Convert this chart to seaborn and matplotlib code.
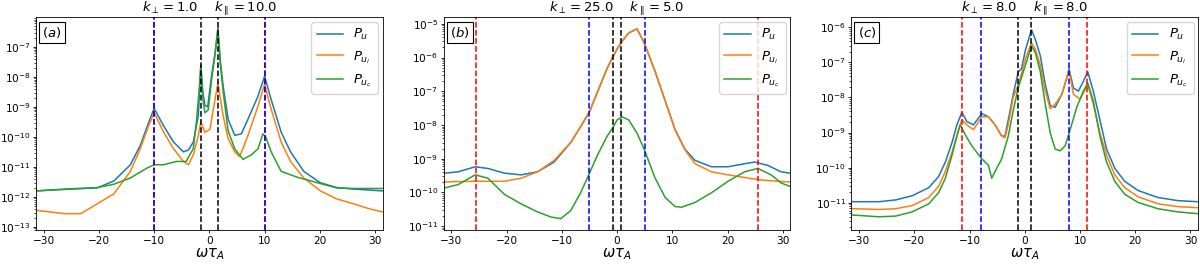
import numpy as np
import pandas as pd
import matplotlib
matplotlib.use("Agg")
import matplotlib.pyplot as plt
import matplotlib.ticker as mticker
import seaborn as sns

# panel parameters
panel_tags = ["(a)", "(b)", "(c)"]
k_perp = [1.0, 25.0, 8.0]
k_par = [10.0, 5.0, 8.0]
red_lines = [10.05, 25.5, 11.31]
blue_lines = [10.0, 5.0, 8.0]
black_lines = [1.55, 0.75, 1.2]
ylim_exp = [(-13.12, -6.02), (-11.13, -4.81), (-11.79, -5.72)]

# panel (a) spectra, values as log10(P)
a_u_x = [-31.3, -26.0, -20.3, -17.3, -14.3, -12.5, -11.0, -10.0, -8.3, -6.5, -4.7, -3.8,
         -2.9, -2.0, -1.55, -1.2, -0.8, -0.3, 0.4, 1.0, 1.55, 2.0, 2.5, 3.4, 4.6, 5.8,
         7.0, 8.8, 10.0, 11.2, 13.0, 14.7, 17.1, 20.1, 23.1, 26.1, 31.3]
a_u_y = [-11.8, -11.75, -11.7, -11.47, -10.93, -10.28, -9.52, -9.05, -9.63, -10.17, -10.5, -10.44,
         -10.17, -9.3, -7.6, -8.5, -8.95, -9.0, -7.95, -7.25, -6.37, -7.5, -8.32, -9.41, -9.95, -9.9,
         -9.41, -8.65, -7.98, -8.76, -9.84, -10.5, -11.15, -11.53, -11.69, -11.74, -11.8]
a_ui_x = [-31.3, -26.2, -23.3, -20.3, -17.3, -14.3, -12.5, -11.0, -10.0, -8.3, -6.5, -4.7,
          -3.8, -2.9, -2.0, -1.55, -0.8, 0.1, 0.7, 1.55, 2.5, 3.4, 4.6, 5.5, 7.0, 8.8,
          10.0, 11.2, 13.0, 14.7, 17.1, 20.1, 23.1, 26.1, 29.0, 31.3]
a_ui_y = [-12.45, -12.56, -12.56, -12.23, -11.9, -11.15, -10.39, -9.63, -9.19, -9.84, -10.39, -10.82,
          -10.93, -10.6, -9.95, -9.5, -9.85, -9.75, -9.1, -8.2, -9.3, -10.06, -10.5, -10.66, -9.95, -8.98,
          -8.25, -9.08, -10.17, -10.82, -11.37, -11.8, -12.07, -12.23, -12.4, -12.5]
a_uc_x = [-31.3, -26.2, -20.3, -17.3, -14.3, -11.3, -10.0, -8.3, -6.0, -4.2, -2.9, -2.3,
          -1.8, -1.55, -1.1, -0.8, -0.2, 0.4, 1.0, 1.55, 2.0, 2.5, 3.4, 4.6, 6.1, 7.6,
          8.8, 9.7, 10.2, 11.2, 13.0, 16.0, 19.0, 23.0, 26.0, 31.3]
a_uc_y = [-11.8, -11.74, -11.69, -11.58, -11.37, -11.04, -10.93, -10.93, -10.82, -10.82, -10.39, -9.41,
          -8.32, -7.7, -8.85, -9.2, -9.1, -8.1, -7.3, -6.45, -7.6, -8.5, -9.8, -10.4, -10.75, -10.6,
          -10.4, -9.9, -10.0, -10.5, -11.15, -11.35, -11.5, -11.7, -11.72, -11.72]

# panel (b) spectra
b_u_x = [-31.3, -28.8, -25.7, -23.4, -20.4, -17.4, -14.4, -11.4, -8.4, -6.6, -5.0, -3.6,
         -1.8, -0.8, 0.0, 0.7, 2.1, 3.6, 4.9, 6.9, 8.7, 10.5, 12.3, 14.1, 17.1, 20.1,
         23.1, 24.9, 27.3, 29.7, 31.3]
b_u_y = [-9.43, -9.39, -9.24, -9.29, -9.43, -9.48, -9.39, -9.1, -8.52, -8.05, -7.61, -7.04,
         -6.32, -5.99, -5.75, -5.56, -5.27, -5.15, -5.56, -6.42, -7.28, -8.14, -8.72, -9.05, -9.24, -9.24,
         -9.15, -9.1, -9.2, -9.39, -9.43]
b_ui_x = [-31.3, -25.7, -20.4, -17.4, -14.4, -11.4, -8.4, -6.6, -5.0, -3.6, -1.8, -0.8,
          0.0, 0.7, 2.1, 3.6, 4.9, 6.9, 8.7, 10.5, 12.3, 14.1, 17.1, 20.1, 23.1, 26.0,
          29.0, 31.3]
b_ui_y = [-9.69, -9.67, -9.67, -9.58, -9.39, -9.05, -8.52, -8.05, -7.61, -7.04, -6.32, -5.99,
          -5.75, -5.56, -5.27, -5.15, -5.56, -6.42, -7.28, -8.14, -8.74, -9.15, -9.39, -9.48, -9.56, -9.63,
          -9.67, -9.69]
b_uc_x = [-31.3, -28.8, -25.7, -23.4, -20.4, -17.4, -14.4, -12.0, -10.2, -8.4, -6.6, -5.0,
          -3.6, -1.8, -0.8, 0.0, 0.9, 2.1, 3.6, 4.9, 6.9, 8.7, 10.5, 11.7, 14.1, 17.1,
          20.1, 23.1, 25.5, 27.9, 29.7, 31.3]
b_uc_y = [-9.87, -9.77, -9.48, -9.58, -10.06, -10.34, -10.58, -10.73, -10.78, -10.54, -10.01, -9.43,
          -8.91, -8.33, -8.09, -7.85, -7.76, -7.85, -8.24, -8.72, -9.58, -10.15, -10.42, -10.44, -10.3, -10.01,
          -9.67, -9.39, -9.29, -9.48, -9.72, -9.82]

# panel (c) spectra
c_u_x = [-31.2, -26.4, -23.4, -20.4, -17.4, -15.6, -14.4, -13.2, -12.3, -11.4, -10.5, -9.3,
         -7.8, -6.6, -5.4, -4.2, -3.6, -3.0, -2.1, -1.2, -0.6, 0.1, 1.2, 1.9, 2.8, 3.7,
         4.6, 5.5, 6.7, 7.6, 8.0, 8.8, 9.7, 10.6, 11.4, 12.4, 13.6, 14.8, 16.3, 18.1,
         20.5, 24.1, 27.7, 31.2]
c_u_y = [-10.97, -10.97, -10.92, -10.8, -10.57, -10.25, -9.84, -9.29, -8.78, -8.42, -8.69, -8.78,
         -8.46, -8.55, -8.78, -9.1, -9.1, -8.64, -7.91, -7.27, -7.18, -6.65, -6.07, -6.35, -6.81, -7.63,
         -8.23, -8.28, -7.91, -7.45, -7.18, -7.73, -7.82, -7.54, -7.27, -7.82, -8.64, -9.47, -10.02, -10.39,
         -10.65, -10.85, -10.94, -10.97]
c_ui_x = [-31.2, -26.4, -23.4, -20.4, -17.4, -15.6, -14.4, -13.2, -12.0, -11.4, -10.5, -9.3,
          -7.8, -6.6, -5.4, -4.2, -3.6, -3.0, -2.1, -1.1, 0.1, 1.2, 1.9, 2.8, 3.7, 4.6,
          5.5, 6.7, 8.0, 8.8, 10.0, 11.4, 12.4, 13.6, 14.8, 16.3, 18.1, 20.5, 24.1, 27.7,
          31.2]
c_ui_y = [-11.17, -11.19, -11.17, -11.08, -10.85, -10.53, -10.11, -9.56, -8.92, -8.64, -8.78, -8.92,
          -8.55, -8.55, -8.78, -9.1, -9.15, -8.78, -8.0, -7.6, -6.9, -6.44, -6.62, -7.08, -7.82, -8.32,
          -8.19, -7.91, -7.22, -7.91, -8.05, -7.63, -8.19, -9.01, -9.65, -10.21, -10.57, -10.83, -11.03, -11.11,
          -11.14]
c_uc_x = [-31.2, -26.4, -23.4, -20.4, -17.4, -15.6, -14.4, -13.2, -12.3, -11.7, -10.8, -9.6,
          -7.8, -6.6, -6.0, -5.1, -4.2, -3.0, -2.1, -1.2, 0.1, 1.2, 1.9, 2.8, 3.7, 4.6,
          5.5, 6.4, 7.3, 8.2, 9.4, 10.6, 11.4, 12.4, 13.6, 14.8, 16.3, 18.1, 20.5, 24.1,
          27.7, 31.2]
c_uc_y = [-11.35, -11.4, -11.38, -11.26, -11.03, -10.71, -10.3, -9.65, -9.1, -8.78, -9.06, -9.38,
          -9.75, -9.93, -10.3, -10.02, -9.75, -9.1, -8.37, -7.73, -7.08, -6.53, -6.72, -7.27, -8.19, -9.01,
          -9.47, -9.52, -9.38, -8.92, -8.28, -7.82, -7.59, -8.1, -9.1, -9.84, -10.39, -10.76, -10.99, -11.17,
          -11.26, -11.31]

series_labels = ["$P_u$", "$P_{u_i}$", "$P_{u_c}$"]
series_colors = ["tab:blue", "tab:orange", "tab:green"]


def spectra_dataframe(pairs) -> pd.DataFrame:
    frames = []
    for label, (xs, ys) in zip(series_labels, pairs):
        frames.append(pd.DataFrame({"omega": xs, "P": 10.0 ** np.array(ys), "series": label}))
    return pd.concat(frames, ignore_index=True)


def plot_panel(ax, df, idx):
    for label, color in zip(series_labels, series_colors):
        sub = df[df.series == label]
        sns.lineplot(data=sub, x="omega", y="P", color=color, label=label,
                     linewidth=1.1, ax=ax, sort=True, estimator=None)

    # resonance lines
    for sgn in (-1, 1):
        ax.axvline(sgn * red_lines[idx], color="red", ls="--", lw=1.1)
        ax.axvline(sgn * blue_lines[idx], color="blue", ls="--", lw=1.1)
        ax.axvline(sgn * black_lines[idx], color="black", ls="--", lw=1.1)

    lo, hi = ylim_exp[idx]
    ax.set_yscale("log")
    ax.set_xlim(-31.4, 31.4)
    ax.set_ylim(10 ** lo, 10 ** hi)
    # only label the decades that fall inside the view
    decades = np.arange(int(np.ceil(lo)), int(np.floor(hi)) + 1)
    ax.yaxis.set_major_locator(mticker.FixedLocator(10.0 ** decades))
    ax.yaxis.set_major_formatter(mticker.LogFormatterSciNotation())
    ax.yaxis.set_minor_locator(mticker.LogLocator(base=10, subs=np.arange(2, 10), numticks=20))
    ax.yaxis.set_minor_formatter(mticker.NullFormatter())
    ax.set_xlabel(r"$\omega\tau_A$", fontsize=10.5, labelpad=0)
    ax.set_ylabel("")
    ax.set_title(rf"$k_\perp = {k_perp[idx]}$    $k_\parallel = {k_par[idx]}$",
                 fontsize=9.5, pad=1.5)
    ax.tick_params(labelsize=7.6, length=2.5, width=0.6, pad=1.5)
    ax.tick_params(which="minor", length=1.5, width=0.5)
    for spine in ax.spines.values():
        spine.set_linewidth(0.6)
    ax.text(0.018, 0.965, "$" + panel_tags[idx] + "$", transform=ax.transAxes,
            ha="left", va="top", fontsize=9.5,
            bbox=dict(boxstyle="square,pad=0.25", fc="white", ec="black", lw=0.8))
    ax.legend(loc="upper right", fontsize=9.5, borderaxespad=0.35)


if __name__ == "__main__":
    panels = [
        spectra_dataframe([(a_u_x, a_u_y), (a_ui_x, a_ui_y), (a_uc_x, a_uc_y)]),
        spectra_dataframe([(b_u_x, b_u_y), (b_ui_x, b_ui_y), (b_uc_x, b_uc_y)]),
        spectra_dataframe([(c_u_x, c_u_y), (c_ui_x, c_ui_y), (c_uc_x, c_uc_y)]),
    ]

    fig, axes = plt.subplots(1, 3, figsize=(12, 2.68), dpi=100)
    fig.subplots_adjust(left=0.03, right=0.9985, bottom=0.14, top=0.935, wspace=0.176)
    for i, ax in enumerate(axes):
        plot_panel(ax, panels[i], i)

    fig.savefig("out.png", dpi=100)
